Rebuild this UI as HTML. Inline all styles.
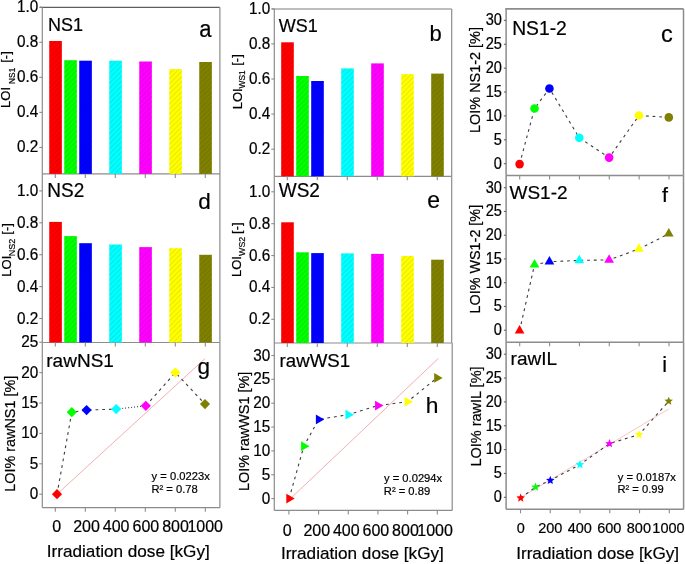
<!DOCTYPE html>
<html><head><meta charset="utf-8"><title>LOI charts</title>
<style>
html,body{margin:0;padding:0;background:#fff;}
svg{display:block;will-change:transform;}
text{font-family:"Liberation Sans", sans-serif;fill:#000;stroke:#000;stroke-width:0.2px;}
</style></head>
<body>
<svg width="685" height="564" viewBox="0 0 685 564">
<defs>
<pattern id="hatch" patternUnits="userSpaceOnUse" width="3.57" height="5" patternTransform="rotate(45)">
<rect x="0" y="0" width="1.0" height="5" fill="rgba(0,0,0,0.09)"/>
</pattern>
</defs>
<rect width="685" height="564" fill="#fff"/>
<line x1="39.80" y1="7.35" x2="219.90" y2="7.35" stroke="#5e5e5e" stroke-width="1.2" />
<line x1="42.30" y1="7.35" x2="42.30" y2="173.90" stroke="#8c8c8c" stroke-width="1.2" />
<line x1="219.90" y1="7.35" x2="219.90" y2="173.90" stroke="#8c8c8c" stroke-width="1.2" />
<line x1="42.30" y1="173.90" x2="219.90" y2="173.90" stroke="#8c8c8c" stroke-width="1.2" />
<line x1="39.30" y1="147.44" x2="42.30" y2="147.44" stroke="#8c8c8c" stroke-width="1.1" />
<line x1="39.30" y1="112.38" x2="42.30" y2="112.38" stroke="#8c8c8c" stroke-width="1.1" />
<line x1="39.30" y1="77.32" x2="42.30" y2="77.32" stroke="#8c8c8c" stroke-width="1.1" />
<line x1="39.30" y1="42.26" x2="42.30" y2="42.26" stroke="#8c8c8c" stroke-width="1.1" />
<line x1="39.30" y1="7.20" x2="42.30" y2="7.20" stroke="#8c8c8c" stroke-width="1.1" />
<text transform="translate(38.20,152.44) scale(1,1.12)" font-size="15.3" text-anchor="end" >0.2</text>
<text transform="translate(38.20,117.38) scale(1,1.12)" font-size="15.3" text-anchor="end" >0.4</text>
<text transform="translate(38.20,82.32) scale(1,1.12)" font-size="15.3" text-anchor="end" >0.6</text>
<text transform="translate(38.20,47.26) scale(1,1.12)" font-size="15.3" text-anchor="end" >0.8</text>
<text transform="translate(38.20,12.20) scale(1,1.12)" font-size="15.3" text-anchor="end" >1.0</text>
<rect x="49.25" y="41.00" width="12.6" height="132.90" fill="#ff0000"/>
<rect x="49.25" y="41.00" width="12.6" height="132.90" fill="url(#hatch)"/>
<rect x="64.25" y="60.20" width="12.6" height="113.70" fill="#00ff00"/>
<rect x="64.25" y="60.20" width="12.6" height="113.70" fill="url(#hatch)"/>
<rect x="79.25" y="60.70" width="12.6" height="113.20" fill="#0000ff"/>
<rect x="79.25" y="60.70" width="12.6" height="113.20" fill="url(#hatch)"/>
<rect x="109.25" y="60.70" width="12.6" height="113.20" fill="#00ffff"/>
<rect x="109.25" y="60.70" width="12.6" height="113.20" fill="url(#hatch)"/>
<rect x="139.25" y="61.50" width="12.6" height="112.40" fill="#ff00ff"/>
<rect x="139.25" y="61.50" width="12.6" height="112.40" fill="url(#hatch)"/>
<rect x="169.25" y="69.10" width="12.6" height="104.80" fill="#ffff00"/>
<rect x="169.25" y="69.10" width="12.6" height="104.80" fill="url(#hatch)"/>
<rect x="199.25" y="62.00" width="12.6" height="111.90" fill="#808000"/>
<rect x="199.25" y="62.00" width="12.6" height="111.90" fill="url(#hatch)"/>
<line x1="55.30" y1="173.90" x2="55.30" y2="177.90" stroke="#8c8c8c" stroke-width="1.1" />
<line x1="85.30" y1="173.90" x2="85.30" y2="177.90" stroke="#8c8c8c" stroke-width="1.1" />
<line x1="115.30" y1="173.90" x2="115.30" y2="177.90" stroke="#8c8c8c" stroke-width="1.1" />
<line x1="145.30" y1="173.90" x2="145.30" y2="177.90" stroke="#8c8c8c" stroke-width="1.1" />
<line x1="175.30" y1="173.90" x2="175.30" y2="177.90" stroke="#8c8c8c" stroke-width="1.1" />
<line x1="205.30" y1="173.90" x2="205.30" y2="177.90" stroke="#8c8c8c" stroke-width="1.1" />
<line x1="42.30" y1="173.90" x2="42.30" y2="342.50" stroke="#8c8c8c" stroke-width="1.2" />
<line x1="219.90" y1="173.90" x2="219.90" y2="342.50" stroke="#8c8c8c" stroke-width="1.2" />
<line x1="42.30" y1="342.50" x2="219.90" y2="342.50" stroke="#8c8c8c" stroke-width="1.2" />
<line x1="39.30" y1="318.50" x2="42.30" y2="318.50" stroke="#8c8c8c" stroke-width="1.1" />
<line x1="39.30" y1="286.60" x2="42.30" y2="286.60" stroke="#8c8c8c" stroke-width="1.1" />
<line x1="39.30" y1="254.70" x2="42.30" y2="254.70" stroke="#8c8c8c" stroke-width="1.1" />
<line x1="39.30" y1="222.80" x2="42.30" y2="222.80" stroke="#8c8c8c" stroke-width="1.1" />
<line x1="39.30" y1="190.90" x2="42.30" y2="190.90" stroke="#8c8c8c" stroke-width="1.1" />
<text transform="translate(38.20,323.50) scale(1,1.12)" font-size="15.3" text-anchor="end" >0.2</text>
<text transform="translate(38.20,291.60) scale(1,1.12)" font-size="15.3" text-anchor="end" >0.4</text>
<text transform="translate(38.20,259.70) scale(1,1.12)" font-size="15.3" text-anchor="end" >0.6</text>
<text transform="translate(38.20,227.80) scale(1,1.12)" font-size="15.3" text-anchor="end" >0.8</text>
<text transform="translate(38.20,195.90) scale(1,1.12)" font-size="15.3" text-anchor="end" >1.0</text>
<rect x="49.25" y="221.90" width="12.6" height="120.60" fill="#ff0000"/>
<rect x="49.25" y="221.90" width="12.6" height="120.60" fill="url(#hatch)"/>
<rect x="64.25" y="236.10" width="12.6" height="106.40" fill="#00ff00"/>
<rect x="64.25" y="236.10" width="12.6" height="106.40" fill="url(#hatch)"/>
<rect x="79.25" y="243.20" width="12.6" height="99.30" fill="#0000ff"/>
<rect x="79.25" y="243.20" width="12.6" height="99.30" fill="url(#hatch)"/>
<rect x="109.25" y="244.50" width="12.6" height="98.00" fill="#00ffff"/>
<rect x="109.25" y="244.50" width="12.6" height="98.00" fill="url(#hatch)"/>
<rect x="139.25" y="247.10" width="12.6" height="95.40" fill="#ff00ff"/>
<rect x="139.25" y="247.10" width="12.6" height="95.40" fill="url(#hatch)"/>
<rect x="169.25" y="248.20" width="12.6" height="94.30" fill="#ffff00"/>
<rect x="169.25" y="248.20" width="12.6" height="94.30" fill="url(#hatch)"/>
<rect x="199.25" y="254.80" width="12.6" height="87.70" fill="#808000"/>
<rect x="199.25" y="254.80" width="12.6" height="87.70" fill="url(#hatch)"/>
<line x1="55.30" y1="342.50" x2="55.30" y2="346.50" stroke="#8c8c8c" stroke-width="1.1" />
<line x1="85.30" y1="342.50" x2="85.30" y2="346.50" stroke="#8c8c8c" stroke-width="1.1" />
<line x1="115.30" y1="342.50" x2="115.30" y2="346.50" stroke="#8c8c8c" stroke-width="1.1" />
<line x1="145.30" y1="342.50" x2="145.30" y2="346.50" stroke="#8c8c8c" stroke-width="1.1" />
<line x1="175.30" y1="342.50" x2="175.30" y2="346.50" stroke="#8c8c8c" stroke-width="1.1" />
<line x1="205.30" y1="342.50" x2="205.30" y2="346.50" stroke="#8c8c8c" stroke-width="1.1" />
<line x1="42.30" y1="342.50" x2="42.30" y2="507.70" stroke="#8c8c8c" stroke-width="1.2" />
<line x1="219.90" y1="342.50" x2="219.90" y2="507.70" stroke="#8c8c8c" stroke-width="1.2" />
<line x1="42.30" y1="507.70" x2="219.90" y2="507.70" stroke="#8c8c8c" stroke-width="1.2" />
<line x1="39.30" y1="494.20" x2="42.30" y2="494.20" stroke="#8c8c8c" stroke-width="1.1" />
<line x1="39.30" y1="463.80" x2="42.30" y2="463.80" stroke="#8c8c8c" stroke-width="1.1" />
<line x1="39.30" y1="433.40" x2="42.30" y2="433.40" stroke="#8c8c8c" stroke-width="1.1" />
<line x1="39.30" y1="403.00" x2="42.30" y2="403.00" stroke="#8c8c8c" stroke-width="1.1" />
<line x1="39.30" y1="372.60" x2="42.30" y2="372.60" stroke="#8c8c8c" stroke-width="1.1" />
<line x1="39.30" y1="342.20" x2="42.30" y2="342.20" stroke="#8c8c8c" stroke-width="1.1" />
<text transform="translate(38.20,499.20) scale(1,1.12)" font-size="15.3" text-anchor="end" >0</text>
<text transform="translate(38.20,468.80) scale(1,1.12)" font-size="15.3" text-anchor="end" >5</text>
<text transform="translate(38.20,438.40) scale(1,1.12)" font-size="15.3" text-anchor="end" >10</text>
<text transform="translate(38.20,408.00) scale(1,1.12)" font-size="15.3" text-anchor="end" >15</text>
<text transform="translate(38.20,377.60) scale(1,1.12)" font-size="15.3" text-anchor="end" >20</text>
<text transform="translate(38.20,347.20) scale(1,1.12)" font-size="15.3" text-anchor="end" >25</text>
<line x1="55.30" y1="507.70" x2="55.30" y2="511.70" stroke="#8c8c8c" stroke-width="1.1" />
<line x1="85.30" y1="507.70" x2="85.30" y2="511.70" stroke="#8c8c8c" stroke-width="1.1" />
<line x1="115.30" y1="507.70" x2="115.30" y2="511.70" stroke="#8c8c8c" stroke-width="1.1" />
<line x1="145.30" y1="507.70" x2="145.30" y2="511.70" stroke="#8c8c8c" stroke-width="1.1" />
<line x1="175.30" y1="507.70" x2="175.30" y2="511.70" stroke="#8c8c8c" stroke-width="1.1" />
<line x1="205.30" y1="507.70" x2="205.30" y2="511.70" stroke="#8c8c8c" stroke-width="1.1" />
<line x1="57.00" y1="494.20" x2="205.00" y2="358.62" stroke="#f3aaaa" stroke-width="0.95"/>
<path d="M57.00,494.20 L71.80,412.20 L86.60,410.10 L116.20,409.10" fill="none" stroke="#3c3c3c" stroke-width="1.1" stroke-dasharray="2.8 3.9"/>
<path d="M116.20,409.10 L145.80,405.80" fill="none" stroke="#3c3c3c" stroke-width="1.1" stroke-dasharray="1 2"/>
<path d="M145.80,405.80 L175.40,372.50 L205.00,404.10" fill="none" stroke="#3c3c3c" stroke-width="1.1" stroke-dasharray="2.8 3.9"/>
<polygon points="57.00,489.10 62.10,494.20 57.00,499.30 51.90,494.20" fill="#ff0000"/>
<polygon points="71.80,407.10 76.90,412.20 71.80,417.30 66.70,412.20" fill="#00ff00"/>
<polygon points="86.60,405.00 91.70,410.10 86.60,415.20 81.50,410.10" fill="#0000ff"/>
<polygon points="116.20,404.00 121.30,409.10 116.20,414.20 111.10,409.10" fill="#00ffff"/>
<polygon points="145.80,400.70 150.90,405.80 145.80,410.90 140.70,405.80" fill="#ff00ff"/>
<polygon points="175.40,367.40 180.50,372.50 175.40,377.60 170.30,372.50" fill="#ffff00"/>
<polygon points="205.00,399.00 210.10,404.10 205.00,409.20 199.90,404.10" fill="#808000"/>
<text transform="translate(151.60,480.00) scale(1,1.05)" font-size="11.2" text-anchor="start" >y = 0.0223x</text>
<text transform="translate(151.40,492.60) scale(1,1.05)" font-size="11.2" text-anchor="start" >R² = 0.78</text>
<text x="56.80" y="532.30" font-size="16" text-anchor="middle" >0</text>
<text x="86.48" y="532.30" font-size="16" text-anchor="middle" >200</text>
<text x="116.16" y="532.30" font-size="16" text-anchor="middle" >400</text>
<text x="145.84" y="532.30" font-size="16" text-anchor="middle" >600</text>
<text x="175.52" y="532.30" font-size="16" text-anchor="middle" >800</text>
<text x="205.20" y="532.30" font-size="16" text-anchor="middle" >1000</text>
<text x="46.80" y="556.50" font-size="17.15" text-anchor="start" >Irradiation dose [kGy]</text>
<text transform="translate(48.00,30.60) scale(1,1.05)" font-size="18" text-anchor="start" >NS1</text>
<text transform="translate(199.30,36.50) scale(1,1.06)" font-size="22" text-anchor="start" >a</text>
<text transform="translate(47.30,196.60) scale(1,1.04)" font-size="19" text-anchor="start" >NS2</text>
<text x="198.30" y="208.90" font-size="22.5" text-anchor="start" >d</text>
<text x="46.30" y="366.60" font-size="19" text-anchor="start" >rawNS1</text>
<text x="197.50" y="374.40" font-size="22.5" text-anchor="start" >g</text>
<text transform="translate(10.20,107.90) rotate(-90)" font-size="13">LOI</text>
<text transform="translate(14.80,83.90) rotate(-90)" font-size="8.3">NS1</text>
<text transform="translate(10.20,62.80) rotate(-90)" font-size="13">[-]</text>
<text transform="translate(10.90,276.70) rotate(-90)" font-size="13">LOI</text>
<text transform="translate(14.90,256.20) rotate(-90)" font-size="9">NS2</text>
<text transform="translate(10.60,234.70) rotate(-90)" font-size="13">[-]</text>
<text transform="translate(15.10,491.70) rotate(-90) scale(1,1.06)" font-size="14.4">LOI% rawNS1 [%]</text>
<line x1="271.80" y1="8.90" x2="451.70" y2="8.90" stroke="#a8a8a8" stroke-width="1.5" />
<line x1="274.30" y1="8.90" x2="274.30" y2="176.30" stroke="#8c8c8c" stroke-width="1.2" />
<line x1="451.70" y1="8.90" x2="451.70" y2="176.30" stroke="#8c8c8c" stroke-width="1.2" />
<line x1="274.30" y1="176.30" x2="451.70" y2="176.30" stroke="#8c8c8c" stroke-width="1.2" />
<line x1="271.30" y1="149.20" x2="274.30" y2="149.20" stroke="#8c8c8c" stroke-width="1.1" />
<line x1="271.30" y1="114.10" x2="274.30" y2="114.10" stroke="#8c8c8c" stroke-width="1.1" />
<line x1="271.30" y1="79.00" x2="274.30" y2="79.00" stroke="#8c8c8c" stroke-width="1.1" />
<line x1="271.30" y1="43.90" x2="274.30" y2="43.90" stroke="#8c8c8c" stroke-width="1.1" />
<line x1="271.30" y1="8.80" x2="274.30" y2="8.80" stroke="#8c8c8c" stroke-width="1.1" />
<text transform="translate(270.20,154.20) scale(1,1.12)" font-size="15.3" text-anchor="end" >0.2</text>
<text transform="translate(270.20,119.10) scale(1,1.12)" font-size="15.3" text-anchor="end" >0.4</text>
<text transform="translate(270.20,84.00) scale(1,1.12)" font-size="15.3" text-anchor="end" >0.6</text>
<text transform="translate(270.20,48.90) scale(1,1.12)" font-size="15.3" text-anchor="end" >0.8</text>
<text transform="translate(270.20,13.80) scale(1,1.12)" font-size="15.3" text-anchor="end" >1.0</text>
<rect x="281.20" y="42.30" width="12.6" height="134.00" fill="#ff0000"/>
<rect x="281.20" y="42.30" width="12.6" height="134.00" fill="url(#hatch)"/>
<rect x="296.20" y="76.00" width="12.6" height="100.30" fill="#00ff00"/>
<rect x="296.20" y="76.00" width="12.6" height="100.30" fill="url(#hatch)"/>
<rect x="311.20" y="81.00" width="12.6" height="95.30" fill="#0000ff"/>
<rect x="311.20" y="81.00" width="12.6" height="95.30" fill="url(#hatch)"/>
<rect x="341.20" y="68.40" width="12.6" height="107.90" fill="#00ffff"/>
<rect x="341.20" y="68.40" width="12.6" height="107.90" fill="url(#hatch)"/>
<rect x="371.20" y="63.40" width="12.6" height="112.90" fill="#ff00ff"/>
<rect x="371.20" y="63.40" width="12.6" height="112.90" fill="url(#hatch)"/>
<rect x="401.20" y="74.10" width="12.6" height="102.20" fill="#ffff00"/>
<rect x="401.20" y="74.10" width="12.6" height="102.20" fill="url(#hatch)"/>
<rect x="431.20" y="73.60" width="12.6" height="102.70" fill="#808000"/>
<rect x="431.20" y="73.60" width="12.6" height="102.70" fill="url(#hatch)"/>
<line x1="287.30" y1="176.30" x2="287.30" y2="180.30" stroke="#8c8c8c" stroke-width="1.1" />
<line x1="317.30" y1="176.30" x2="317.30" y2="180.30" stroke="#8c8c8c" stroke-width="1.1" />
<line x1="347.30" y1="176.30" x2="347.30" y2="180.30" stroke="#8c8c8c" stroke-width="1.1" />
<line x1="377.30" y1="176.30" x2="377.30" y2="180.30" stroke="#8c8c8c" stroke-width="1.1" />
<line x1="407.30" y1="176.30" x2="407.30" y2="180.30" stroke="#8c8c8c" stroke-width="1.1" />
<line x1="437.30" y1="176.30" x2="437.30" y2="180.30" stroke="#8c8c8c" stroke-width="1.1" />
<line x1="274.30" y1="176.30" x2="274.30" y2="343.00" stroke="#8c8c8c" stroke-width="1.2" />
<line x1="451.70" y1="176.30" x2="451.70" y2="343.00" stroke="#8c8c8c" stroke-width="1.2" />
<line x1="274.30" y1="343.00" x2="451.70" y2="343.00" stroke="#8c8c8c" stroke-width="1.2" />
<line x1="271.30" y1="319.32" x2="274.30" y2="319.32" stroke="#8c8c8c" stroke-width="1.1" />
<line x1="271.30" y1="287.44" x2="274.30" y2="287.44" stroke="#8c8c8c" stroke-width="1.1" />
<line x1="271.30" y1="255.56" x2="274.30" y2="255.56" stroke="#8c8c8c" stroke-width="1.1" />
<line x1="271.30" y1="223.68" x2="274.30" y2="223.68" stroke="#8c8c8c" stroke-width="1.1" />
<line x1="271.30" y1="191.80" x2="274.30" y2="191.80" stroke="#8c8c8c" stroke-width="1.1" />
<text transform="translate(270.20,324.32) scale(1,1.12)" font-size="15.3" text-anchor="end" >0.2</text>
<text transform="translate(270.20,292.44) scale(1,1.12)" font-size="15.3" text-anchor="end" >0.4</text>
<text transform="translate(270.20,260.56) scale(1,1.12)" font-size="15.3" text-anchor="end" >0.6</text>
<text transform="translate(270.20,228.68) scale(1,1.12)" font-size="15.3" text-anchor="end" >0.8</text>
<text transform="translate(270.20,196.80) scale(1,1.12)" font-size="15.3" text-anchor="end" >1.0</text>
<rect x="281.20" y="222.30" width="12.6" height="120.70" fill="#ff0000"/>
<rect x="281.20" y="222.30" width="12.6" height="120.70" fill="url(#hatch)"/>
<rect x="296.20" y="252.30" width="12.6" height="90.70" fill="#00ff00"/>
<rect x="296.20" y="252.30" width="12.6" height="90.70" fill="url(#hatch)"/>
<rect x="311.20" y="253.10" width="12.6" height="89.90" fill="#0000ff"/>
<rect x="311.20" y="253.10" width="12.6" height="89.90" fill="url(#hatch)"/>
<rect x="341.20" y="253.40" width="12.6" height="89.60" fill="#00ffff"/>
<rect x="341.20" y="253.40" width="12.6" height="89.60" fill="url(#hatch)"/>
<rect x="371.20" y="253.90" width="12.6" height="89.10" fill="#ff00ff"/>
<rect x="371.20" y="253.90" width="12.6" height="89.10" fill="url(#hatch)"/>
<rect x="401.20" y="256.00" width="12.6" height="87.00" fill="#ffff00"/>
<rect x="401.20" y="256.00" width="12.6" height="87.00" fill="url(#hatch)"/>
<rect x="431.20" y="259.70" width="12.6" height="83.30" fill="#808000"/>
<rect x="431.20" y="259.70" width="12.6" height="83.30" fill="url(#hatch)"/>
<line x1="287.30" y1="343.00" x2="287.30" y2="347.00" stroke="#8c8c8c" stroke-width="1.1" />
<line x1="317.30" y1="343.00" x2="317.30" y2="347.00" stroke="#8c8c8c" stroke-width="1.1" />
<line x1="347.30" y1="343.00" x2="347.30" y2="347.00" stroke="#8c8c8c" stroke-width="1.1" />
<line x1="377.30" y1="343.00" x2="377.30" y2="347.00" stroke="#8c8c8c" stroke-width="1.1" />
<line x1="407.30" y1="343.00" x2="407.30" y2="347.00" stroke="#8c8c8c" stroke-width="1.1" />
<line x1="437.30" y1="343.00" x2="437.30" y2="347.00" stroke="#8c8c8c" stroke-width="1.1" />
<line x1="274.30" y1="343.00" x2="274.30" y2="510.40" stroke="#8c8c8c" stroke-width="1.2" />
<line x1="452.20" y1="343.00" x2="452.20" y2="510.40" stroke="#8c8c8c" stroke-width="1.2" />
<line x1="274.30" y1="510.40" x2="452.20" y2="510.40" stroke="#8c8c8c" stroke-width="1.2" />
<line x1="271.30" y1="498.60" x2="274.30" y2="498.60" stroke="#8c8c8c" stroke-width="1.1" />
<line x1="271.30" y1="474.75" x2="274.30" y2="474.75" stroke="#8c8c8c" stroke-width="1.1" />
<line x1="271.30" y1="450.90" x2="274.30" y2="450.90" stroke="#8c8c8c" stroke-width="1.1" />
<line x1="271.30" y1="427.05" x2="274.30" y2="427.05" stroke="#8c8c8c" stroke-width="1.1" />
<line x1="271.30" y1="403.20" x2="274.30" y2="403.20" stroke="#8c8c8c" stroke-width="1.1" />
<line x1="271.30" y1="379.35" x2="274.30" y2="379.35" stroke="#8c8c8c" stroke-width="1.1" />
<line x1="271.30" y1="355.50" x2="274.30" y2="355.50" stroke="#8c8c8c" stroke-width="1.1" />
<text transform="translate(270.20,503.60) scale(1,1.12)" font-size="15.3" text-anchor="end" >0</text>
<text transform="translate(270.20,479.75) scale(1,1.12)" font-size="15.3" text-anchor="end" >5</text>
<text transform="translate(270.20,455.90) scale(1,1.12)" font-size="15.3" text-anchor="end" >10</text>
<text transform="translate(270.20,432.05) scale(1,1.12)" font-size="15.3" text-anchor="end" >15</text>
<text transform="translate(270.20,408.20) scale(1,1.12)" font-size="15.3" text-anchor="end" >20</text>
<text transform="translate(270.20,384.35) scale(1,1.12)" font-size="15.3" text-anchor="end" >25</text>
<text transform="translate(270.20,360.50) scale(1,1.12)" font-size="15.3" text-anchor="end" >30</text>
<line x1="288.90" y1="510.40" x2="288.90" y2="514.40" stroke="#8c8c8c" stroke-width="1.1" />
<line x1="318.58" y1="510.40" x2="318.58" y2="514.40" stroke="#8c8c8c" stroke-width="1.1" />
<line x1="348.26" y1="510.40" x2="348.26" y2="514.40" stroke="#8c8c8c" stroke-width="1.1" />
<line x1="377.94" y1="510.40" x2="377.94" y2="514.40" stroke="#8c8c8c" stroke-width="1.1" />
<line x1="407.62" y1="510.40" x2="407.62" y2="514.40" stroke="#8c8c8c" stroke-width="1.1" />
<line x1="437.30" y1="510.40" x2="437.30" y2="514.40" stroke="#8c8c8c" stroke-width="1.1" />
<line x1="290.50" y1="498.60" x2="438.40" y2="358.36" stroke="#f3aaaa" stroke-width="0.95"/>
<path d="M289.10,498.60 L303.89,446.13 L318.68,419.42 L348.26,414.65 L377.84,405.59 L407.42,401.77 L437.00,377.92" fill="none" stroke="#3c3c3c" stroke-width="1.1" stroke-dasharray="2.8 3.9"/>
<polygon points="286.30,493.80 286.30,503.40 294.70,498.60" fill="#ff0000"/>
<polygon points="301.09,441.33 301.09,450.93 309.49,446.13" fill="#00ff00"/>
<polygon points="315.88,414.62 315.88,424.22 324.28,419.42" fill="#0000ff"/>
<polygon points="345.46,409.85 345.46,419.45 353.86,414.65" fill="#00ffff"/>
<polygon points="375.04,400.79 375.04,410.39 383.44,405.59" fill="#ff00ff"/>
<polygon points="404.62,396.97 404.62,406.57 413.02,401.77" fill="#ffff00"/>
<polygon points="434.20,373.12 434.20,382.72 442.60,377.92" fill="#808000"/>
<text transform="translate(384.00,481.80) scale(1,1.05)" font-size="11.2" text-anchor="start" >y = 0.0294x</text>
<text transform="translate(383.80,495.10) scale(1,1.05)" font-size="11.2" text-anchor="start" >R² = 0.89</text>
<text x="287.15" y="536.00" font-size="16" text-anchor="middle" >0</text>
<text x="316.73" y="536.00" font-size="16" text-anchor="middle" >200</text>
<text x="346.31" y="536.00" font-size="16" text-anchor="middle" >400</text>
<text x="375.89" y="536.00" font-size="16" text-anchor="middle" >600</text>
<text x="405.47" y="536.00" font-size="16" text-anchor="middle" >800</text>
<text x="435.05" y="536.00" font-size="16" text-anchor="middle" >1000</text>
<text x="280.90" y="559.10" font-size="17.15" text-anchor="start" >Irradiation dose [kGy]</text>
<text transform="translate(278.80,31.90) scale(1,1.03)" font-size="18" text-anchor="start" >WS1</text>
<text x="429.50" y="41.20" font-size="22" text-anchor="start" >b</text>
<text transform="translate(278.80,196.50) scale(1,1.07)" font-size="19" text-anchor="start" >WS2</text>
<text x="427.30" y="208.30" font-size="23" text-anchor="start" >e</text>
<text x="279.60" y="366.90" font-size="18.7" text-anchor="start" >rawWS1</text>
<text x="425.80" y="413.00" font-size="22.8" text-anchor="start" >h</text>
<text transform="translate(241.70,109.30) rotate(-90)" font-size="13">LOI</text>
<text transform="translate(244.50,88.50) rotate(-90)" font-size="8.4">WS1</text>
<text transform="translate(241.00,65.80) rotate(-90)" font-size="13">[-]</text>
<text transform="translate(241.30,277.10) rotate(-90)" font-size="13">LOI</text>
<text transform="translate(245.30,255.90) rotate(-90)" font-size="8.8">WS2</text>
<text transform="translate(241.00,233.90) rotate(-90)" font-size="13">[-]</text>
<text transform="translate(248.70,491.10) rotate(-90) scale(1,1.06)" font-size="14.43">LOI% rawWS1 [%]</text>
<line x1="505.30" y1="8.85" x2="683.50" y2="8.85" stroke="#8c8c8c" stroke-width="1.6" />
<line x1="506.10" y1="8.85" x2="506.10" y2="175.40" stroke="#8c8c8c" stroke-width="1.5" />
<line x1="683.50" y1="8.85" x2="683.50" y2="175.40" stroke="#8c8c8c" stroke-width="1.5" />
<line x1="506.10" y1="175.40" x2="683.50" y2="175.40" stroke="#8c8c8c" stroke-width="1.5" />
<line x1="503.90" y1="163.70" x2="506.10" y2="163.70" stroke="#666" stroke-width="1.1" />
<line x1="503.90" y1="139.81" x2="506.10" y2="139.81" stroke="#666" stroke-width="1.1" />
<line x1="503.90" y1="115.93" x2="506.10" y2="115.93" stroke="#666" stroke-width="1.1" />
<line x1="503.90" y1="92.04" x2="506.10" y2="92.04" stroke="#666" stroke-width="1.1" />
<line x1="503.90" y1="68.16" x2="506.10" y2="68.16" stroke="#666" stroke-width="1.1" />
<line x1="503.90" y1="44.27" x2="506.10" y2="44.27" stroke="#666" stroke-width="1.1" />
<line x1="503.90" y1="20.39" x2="506.10" y2="20.39" stroke="#666" stroke-width="1.1" />
<text transform="translate(501.90,168.50) scale(1,1.1)" font-size="14.6" text-anchor="end" >0</text>
<text transform="translate(501.90,144.62) scale(1,1.1)" font-size="14.6" text-anchor="end" >5</text>
<text transform="translate(501.90,120.73) scale(1,1.1)" font-size="14.6" text-anchor="end" >10</text>
<text transform="translate(501.90,96.84) scale(1,1.1)" font-size="14.6" text-anchor="end" >15</text>
<text transform="translate(501.90,72.96) scale(1,1.1)" font-size="14.6" text-anchor="end" >20</text>
<text transform="translate(501.90,49.07) scale(1,1.1)" font-size="14.6" text-anchor="end" >25</text>
<text transform="translate(501.90,25.19) scale(1,1.1)" font-size="14.6" text-anchor="end" >30</text>
<line x1="519.70" y1="175.40" x2="519.70" y2="179.40" stroke="#8c8c8c" stroke-width="1.1" />
<line x1="549.56" y1="175.40" x2="549.56" y2="179.40" stroke="#8c8c8c" stroke-width="1.1" />
<line x1="579.42" y1="175.40" x2="579.42" y2="179.40" stroke="#8c8c8c" stroke-width="1.1" />
<line x1="609.28" y1="175.40" x2="609.28" y2="179.40" stroke="#8c8c8c" stroke-width="1.1" />
<line x1="639.14" y1="175.40" x2="639.14" y2="179.40" stroke="#8c8c8c" stroke-width="1.1" />
<line x1="669.00" y1="175.40" x2="669.00" y2="179.40" stroke="#8c8c8c" stroke-width="1.1" />
<path d="M519.60,164.10 L534.52,108.50 L549.44,88.48 L579.28,137.83 L609.12,157.60 L638.96,115.57 L668.80,117.38" fill="none" stroke="#3c3c3c" stroke-width="1.1" stroke-dasharray="2.8 3.9"/>
<circle cx="519.60" cy="164.10" r="4.3" fill="#ff0000"/>
<circle cx="534.52" cy="108.50" r="4.3" fill="#00ff00"/>
<circle cx="549.44" cy="88.48" r="4.3" fill="#0000ff"/>
<circle cx="579.28" cy="137.83" r="4.3" fill="#00ffff"/>
<circle cx="609.12" cy="157.60" r="4.3" fill="#ff00ff"/>
<circle cx="638.96" cy="115.57" r="4.3" fill="#ffff00"/>
<circle cx="668.80" cy="117.38" r="4.3" fill="#808000"/>
<line x1="506.10" y1="175.40" x2="506.10" y2="342.30" stroke="#8c8c8c" stroke-width="1.5" />
<line x1="683.50" y1="175.40" x2="683.50" y2="342.30" stroke="#8c8c8c" stroke-width="1.5" />
<line x1="506.10" y1="342.30" x2="683.50" y2="342.30" stroke="#8c8c8c" stroke-width="1.5" />
<line x1="503.90" y1="330.20" x2="506.10" y2="330.20" stroke="#666" stroke-width="1.1" />
<line x1="503.90" y1="306.45" x2="506.10" y2="306.45" stroke="#666" stroke-width="1.1" />
<line x1="503.90" y1="282.70" x2="506.10" y2="282.70" stroke="#666" stroke-width="1.1" />
<line x1="503.90" y1="258.95" x2="506.10" y2="258.95" stroke="#666" stroke-width="1.1" />
<line x1="503.90" y1="235.20" x2="506.10" y2="235.20" stroke="#666" stroke-width="1.1" />
<line x1="503.90" y1="211.45" x2="506.10" y2="211.45" stroke="#666" stroke-width="1.1" />
<line x1="503.90" y1="187.70" x2="506.10" y2="187.70" stroke="#666" stroke-width="1.1" />
<text transform="translate(501.90,335.00) scale(1,1.1)" font-size="14.6" text-anchor="end" >0</text>
<text transform="translate(501.90,311.25) scale(1,1.1)" font-size="14.6" text-anchor="end" >5</text>
<text transform="translate(501.90,287.50) scale(1,1.1)" font-size="14.6" text-anchor="end" >10</text>
<text transform="translate(501.90,263.75) scale(1,1.1)" font-size="14.6" text-anchor="end" >15</text>
<text transform="translate(501.90,240.00) scale(1,1.1)" font-size="14.6" text-anchor="end" >20</text>
<text transform="translate(501.90,216.25) scale(1,1.1)" font-size="14.6" text-anchor="end" >25</text>
<text transform="translate(501.90,192.50) scale(1,1.1)" font-size="14.6" text-anchor="end" >30</text>
<line x1="519.70" y1="342.30" x2="519.70" y2="346.30" stroke="#8c8c8c" stroke-width="1.1" />
<line x1="549.56" y1="342.30" x2="549.56" y2="346.30" stroke="#8c8c8c" stroke-width="1.1" />
<line x1="579.42" y1="342.30" x2="579.42" y2="346.30" stroke="#8c8c8c" stroke-width="1.1" />
<line x1="609.28" y1="342.30" x2="609.28" y2="346.30" stroke="#8c8c8c" stroke-width="1.1" />
<line x1="639.14" y1="342.30" x2="639.14" y2="346.30" stroke="#8c8c8c" stroke-width="1.1" />
<line x1="669.00" y1="342.30" x2="669.00" y2="346.30" stroke="#8c8c8c" stroke-width="1.1" />
<path d="M519.60,330.65 L534.52,264.62 L549.44,261.77 L579.28,260.35 L609.12,259.88 L638.96,248.95 L668.80,233.75" fill="none" stroke="#3c3c3c" stroke-width="1.1" stroke-dasharray="2.8 3.9"/>
<polygon points="514.75,333.48 524.45,333.48 519.60,324.98" fill="#ff0000"/>
<polygon points="529.67,267.46 539.37,267.46 534.52,258.96" fill="#00ff00"/>
<polygon points="544.59,264.61 554.29,264.61 549.44,256.11" fill="#0000ff"/>
<polygon points="574.43,263.18 584.13,263.18 579.28,254.68" fill="#00ffff"/>
<polygon points="604.27,262.71 613.97,262.71 609.12,254.21" fill="#ff00ff"/>
<polygon points="634.11,251.78 643.81,251.78 638.96,243.28" fill="#ffff00"/>
<polygon points="663.95,236.58 673.65,236.58 668.80,228.08" fill="#808000"/>
<line x1="506.10" y1="342.30" x2="506.10" y2="509.30" stroke="#8c8c8c" stroke-width="1.5" />
<line x1="683.60" y1="342.30" x2="683.60" y2="509.30" stroke="#8c8c8c" stroke-width="1.5" />
<line x1="506.10" y1="509.30" x2="683.60" y2="509.30" stroke="#8c8c8c" stroke-width="1.5" />
<line x1="503.90" y1="497.30" x2="506.10" y2="497.30" stroke="#666" stroke-width="1.1" />
<line x1="503.90" y1="473.45" x2="506.10" y2="473.45" stroke="#666" stroke-width="1.1" />
<line x1="503.90" y1="449.60" x2="506.10" y2="449.60" stroke="#666" stroke-width="1.1" />
<line x1="503.90" y1="425.75" x2="506.10" y2="425.75" stroke="#666" stroke-width="1.1" />
<line x1="503.90" y1="401.90" x2="506.10" y2="401.90" stroke="#666" stroke-width="1.1" />
<line x1="503.90" y1="378.05" x2="506.10" y2="378.05" stroke="#666" stroke-width="1.1" />
<line x1="503.90" y1="354.20" x2="506.10" y2="354.20" stroke="#666" stroke-width="1.1" />
<text transform="translate(501.90,502.10) scale(1,1.1)" font-size="14.6" text-anchor="end" >0</text>
<text transform="translate(501.90,478.25) scale(1,1.1)" font-size="14.6" text-anchor="end" >5</text>
<text transform="translate(501.90,454.40) scale(1,1.1)" font-size="14.6" text-anchor="end" >10</text>
<text transform="translate(501.90,430.55) scale(1,1.1)" font-size="14.6" text-anchor="end" >15</text>
<text transform="translate(501.90,406.70) scale(1,1.1)" font-size="14.6" text-anchor="end" >20</text>
<text transform="translate(501.90,382.85) scale(1,1.1)" font-size="14.6" text-anchor="end" >25</text>
<text transform="translate(501.90,359.00) scale(1,1.1)" font-size="14.6" text-anchor="end" >30</text>
<line x1="520.50" y1="509.30" x2="520.50" y2="513.30" stroke="#8c8c8c" stroke-width="1.1" />
<line x1="550.26" y1="509.30" x2="550.26" y2="513.30" stroke="#8c8c8c" stroke-width="1.1" />
<line x1="580.02" y1="509.30" x2="580.02" y2="513.30" stroke="#8c8c8c" stroke-width="1.1" />
<line x1="609.78" y1="509.30" x2="609.78" y2="513.30" stroke="#8c8c8c" stroke-width="1.1" />
<line x1="639.54" y1="509.30" x2="639.54" y2="513.30" stroke="#8c8c8c" stroke-width="1.1" />
<line x1="669.30" y1="509.30" x2="669.30" y2="513.30" stroke="#8c8c8c" stroke-width="1.1" />
<line x1="520.70" y1="497.60" x2="668.70" y2="409.00" stroke="#f5bcbc" stroke-width="0.85"/>
<path d="M520.70,498.00 L535.50,487.03 L550.30,480.35 L579.90,464.61 L609.50,443.62 L639.10,434.56 L668.70,401.17" fill="none" stroke="#3c3c3c" stroke-width="1.1" stroke-dasharray="2.8 3.9"/>
<polygon points="520.70,493.50 521.89,496.36 524.98,496.61 522.63,498.63 523.35,501.64 520.70,500.02 518.05,501.64 518.77,498.63 516.42,496.61 519.51,496.36" fill="#ff0000"/>
<polygon points="535.50,482.53 536.69,485.39 539.78,485.64 537.43,487.65 538.15,490.67 535.50,489.05 532.85,490.67 533.57,487.65 531.22,485.64 534.31,485.39" fill="#00ff00"/>
<polygon points="550.30,475.85 551.49,478.71 554.58,478.96 552.23,480.98 552.95,483.99 550.30,482.38 547.65,483.99 548.37,480.98 546.02,478.96 549.11,478.71" fill="#0000ff"/>
<polygon points="579.90,460.11 581.09,462.97 584.18,463.22 581.83,465.24 582.55,468.25 579.90,466.63 577.25,468.25 577.97,465.24 575.62,463.22 578.71,462.97" fill="#00ffff"/>
<polygon points="609.50,439.12 610.69,441.98 613.78,442.23 611.43,444.25 612.15,447.26 609.50,445.65 606.85,447.26 607.57,444.25 605.22,442.23 608.31,441.98" fill="#ff00ff"/>
<polygon points="639.10,430.06 640.29,432.92 643.38,433.17 641.03,435.18 641.75,438.20 639.10,436.58 636.45,438.20 637.17,435.18 634.82,433.17 637.91,432.92" fill="#ffff00"/>
<polygon points="668.70,396.67 669.89,399.53 672.98,399.78 670.63,401.79 671.35,404.81 668.70,403.19 666.05,404.81 666.77,401.79 664.42,399.78 667.51,399.53" fill="#808000"/>
<text transform="translate(617.80,481.00) scale(1,1.05)" font-size="11.2" text-anchor="start" >y = 0.0187x</text>
<text transform="translate(617.40,493.00) scale(1,1.05)" font-size="11.2" text-anchor="start" >R² = 0.99</text>
<text x="520.70" y="532.70" font-size="14.5" text-anchor="middle" >0</text>
<text x="550.25" y="532.70" font-size="14.5" text-anchor="middle" >200</text>
<text x="579.80" y="532.70" font-size="14.5" text-anchor="middle" >400</text>
<text x="609.35" y="532.70" font-size="14.5" text-anchor="middle" >600</text>
<text x="638.90" y="532.70" font-size="14.5" text-anchor="middle" >800</text>
<text x="668.45" y="532.70" font-size="14.5" text-anchor="middle" >1000</text>
<text x="516.20" y="559.30" font-size="17.15" text-anchor="start" >Irradiation dose [kGy]</text>
<text x="512.20" y="35.10" font-size="19.3" text-anchor="start" >NS1-2</text>
<text x="660.90" y="42.20" font-size="23.5" text-anchor="start" >c</text>
<text x="509.50" y="199.10" font-size="19" text-anchor="start" >WS1-2</text>
<text transform="translate(661.90,201.80) scale(1,0.96)" font-size="21.5" text-anchor="start" >f</text>
<text x="510.60" y="364.80" font-size="19" text-anchor="start" >rawIL</text>
<text x="662.20" y="371.50" font-size="21.5" text-anchor="start" >i</text>
<text transform="translate(479.70,132.90) rotate(-90) scale(1,1.06)" font-size="14.43">LOI% NS1-2 [%]</text>
<text transform="translate(479.70,313.50) rotate(-90) scale(1,1.06)" font-size="14.39">LOI% WS1-2 [%]</text>
<text transform="translate(480.80,466.60) rotate(-90) scale(1,1.06)" font-size="14.5">LOI% rawIL [%]</text>
</svg>
</body></html>
